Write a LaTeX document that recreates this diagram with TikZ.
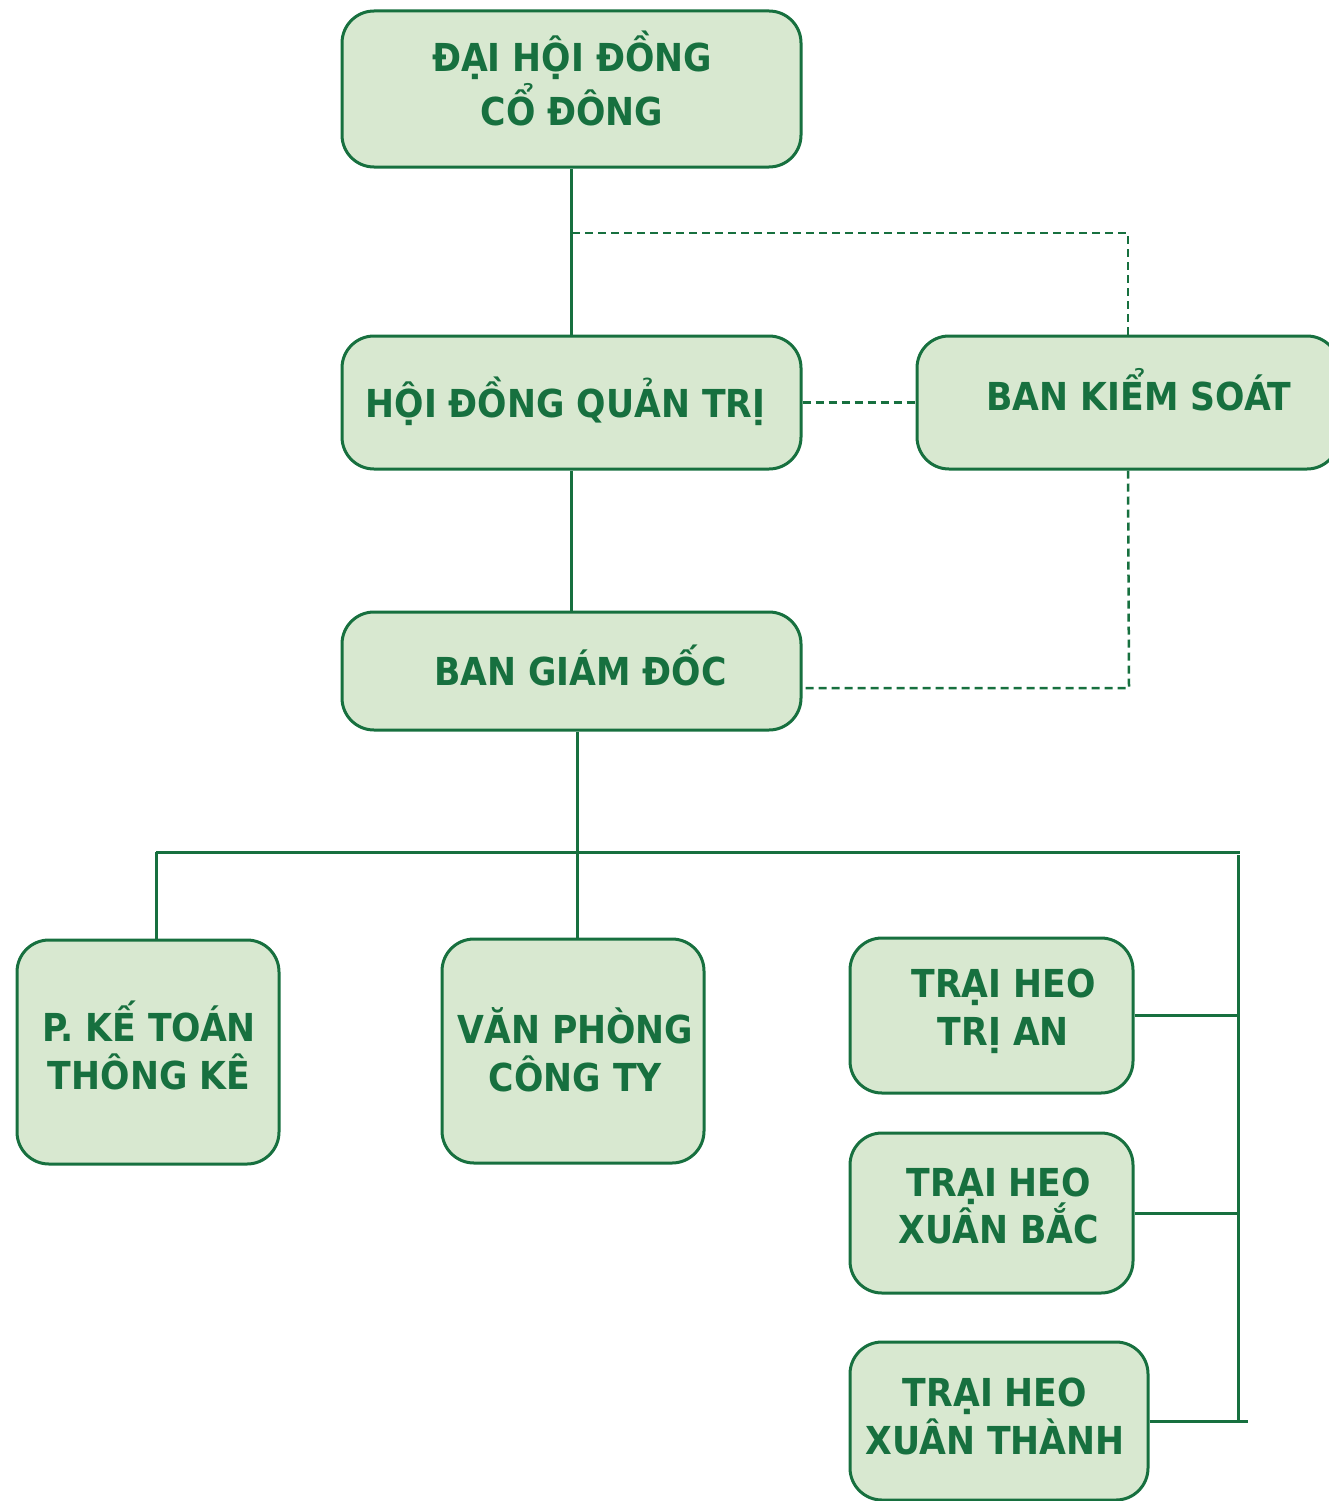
\documentclass[tikz,border=0pt]{standalone}
\usepackage{fontspec}
\setmainfont{DejaVu Sans Condensed}
\definecolor{dkgreen}{HTML}{17703F}
\definecolor{ltgreen}{HTML}{D8E8D0}
\begin{document}
\begin{tikzpicture}[x=1pt,y=-1pt,
  box/.style={draw=dkgreen, fill=ltgreen, line width=3pt, rounded corners=32pt, inner sep=0pt},
  lbl/.style={text=dkgreen, font=\fontsize{38.5}{48}\selectfont\bfseries, anchor=base, inner sep=0pt},
  conn/.style={draw=dkgreen, line width=3pt},
  dconn/.style={conn, line width=2.5pt, dash pattern=on 8pt off 5pt}]
\useasboundingbox (0,0) rectangle (1329,1501);
\clip (0,0) rectangle (1329,1501);
% boxes
\node[box, minimum width=459pt, minimum height=156pt] (dh)  at (571.5,89) {};
\node[box, minimum width=459pt, minimum height=133pt] (hd)  at (571.5,402.5) {};
\node[box, minimum width=422pt, minimum height=133pt] (bks) at (1128,402.5) {};
\node[box, minimum width=459pt, minimum height=118pt] (bgd) at (571.5,671) {};
\node[box, minimum width=262pt, minimum height=224pt] (kt)  at (148,1052) {};
\node[box, minimum width=262pt, minimum height=224pt] (vp)  at (573,1051) {};
\node[box, minimum width=283pt, minimum height=155pt] (ta)  at (991.5,1015.5) {};
\node[box, minimum width=283pt, minimum height=160pt] (xb)  at (991.5,1213) {};
\node[box, minimum width=298pt, minimum height=158pt] (xt)  at (999,1421) {};
% texts
\node[lbl] (dh1) at (572,72) {ĐẠI HỘI ĐỒNG};
\node[lbl] (dh2) at (572,125) {CỔ ĐÔNG};
\node[lbl] (hd1) at (565.5,417) {HỘI ĐỒNG QUẢN TRỊ};
\node[lbl] (bks1) at (1139,410) {BAN KIỂM SOÁT};
\node[lbl] (bgd1) at (580.5,685) {BAN GIÁM ĐỐC};
\node[lbl] (kt1) at (149,1041) {P. KẾ TOÁN};
\node[lbl] (kt2) at (149,1089) {THÔNG KÊ};
\node[lbl] (vp1) at (575.5,1043) {VĂN PHÒNG};
\node[lbl] (vp2) at (575.5,1091) {CÔNG TY};
\node[lbl] (ta1) at (1003.5,997) {TRẠI HEO};
\node[lbl] (ta2) at (1003.5,1045) {TRỊ AN};
\node[lbl] (xb1) at (999,1196) {TRẠI HEO};
\node[lbl] (xb2) at (999,1243) {XUÂN BẮC};
\node[lbl] (xt1) at (995,1406) {TRẠI HEO};
\node[lbl] (xt2) at (995,1454) {XUÂN THÀNH};
% coordinates
\coordinate (d1) at (572,233);
\coordinate (d2) at (1129,688);
\coordinate (hl) at (156,852);
\coordinate (hr) at (1240,852);
\coordinate (rb1) at (1238,855);
\coordinate (rb2) at (1238,1421);
\coordinate (xtend) at (1248,1421);
% connectors
\draw[conn] (dh.south) -- (hd.north);
\draw[dconn] (d1) -| (bks.north);
\draw[dconn] (hd.east) -- (bks.west);
\draw[conn] (hd.south) -- (bgd.north);
\draw[dconn] (bks.south) -- (d2) -- (bgd.east |- d2);
\draw[conn] (bgd.south -| 577,0) -- (577,852) -- (vp.north -| 577,0);
\draw[conn] (hl) -- (hr);
\draw[conn] (hl) -- (hl |- kt.north);
\draw[conn] (rb1) -- (rb2);
\draw[conn] (ta.east) -- (ta.east -| rb1);
\draw[conn] (xb.east) -- (xb.east -| rb1);
\draw[conn] (xt.east) -- (xtend);
\end{tikzpicture}
\end{document}
